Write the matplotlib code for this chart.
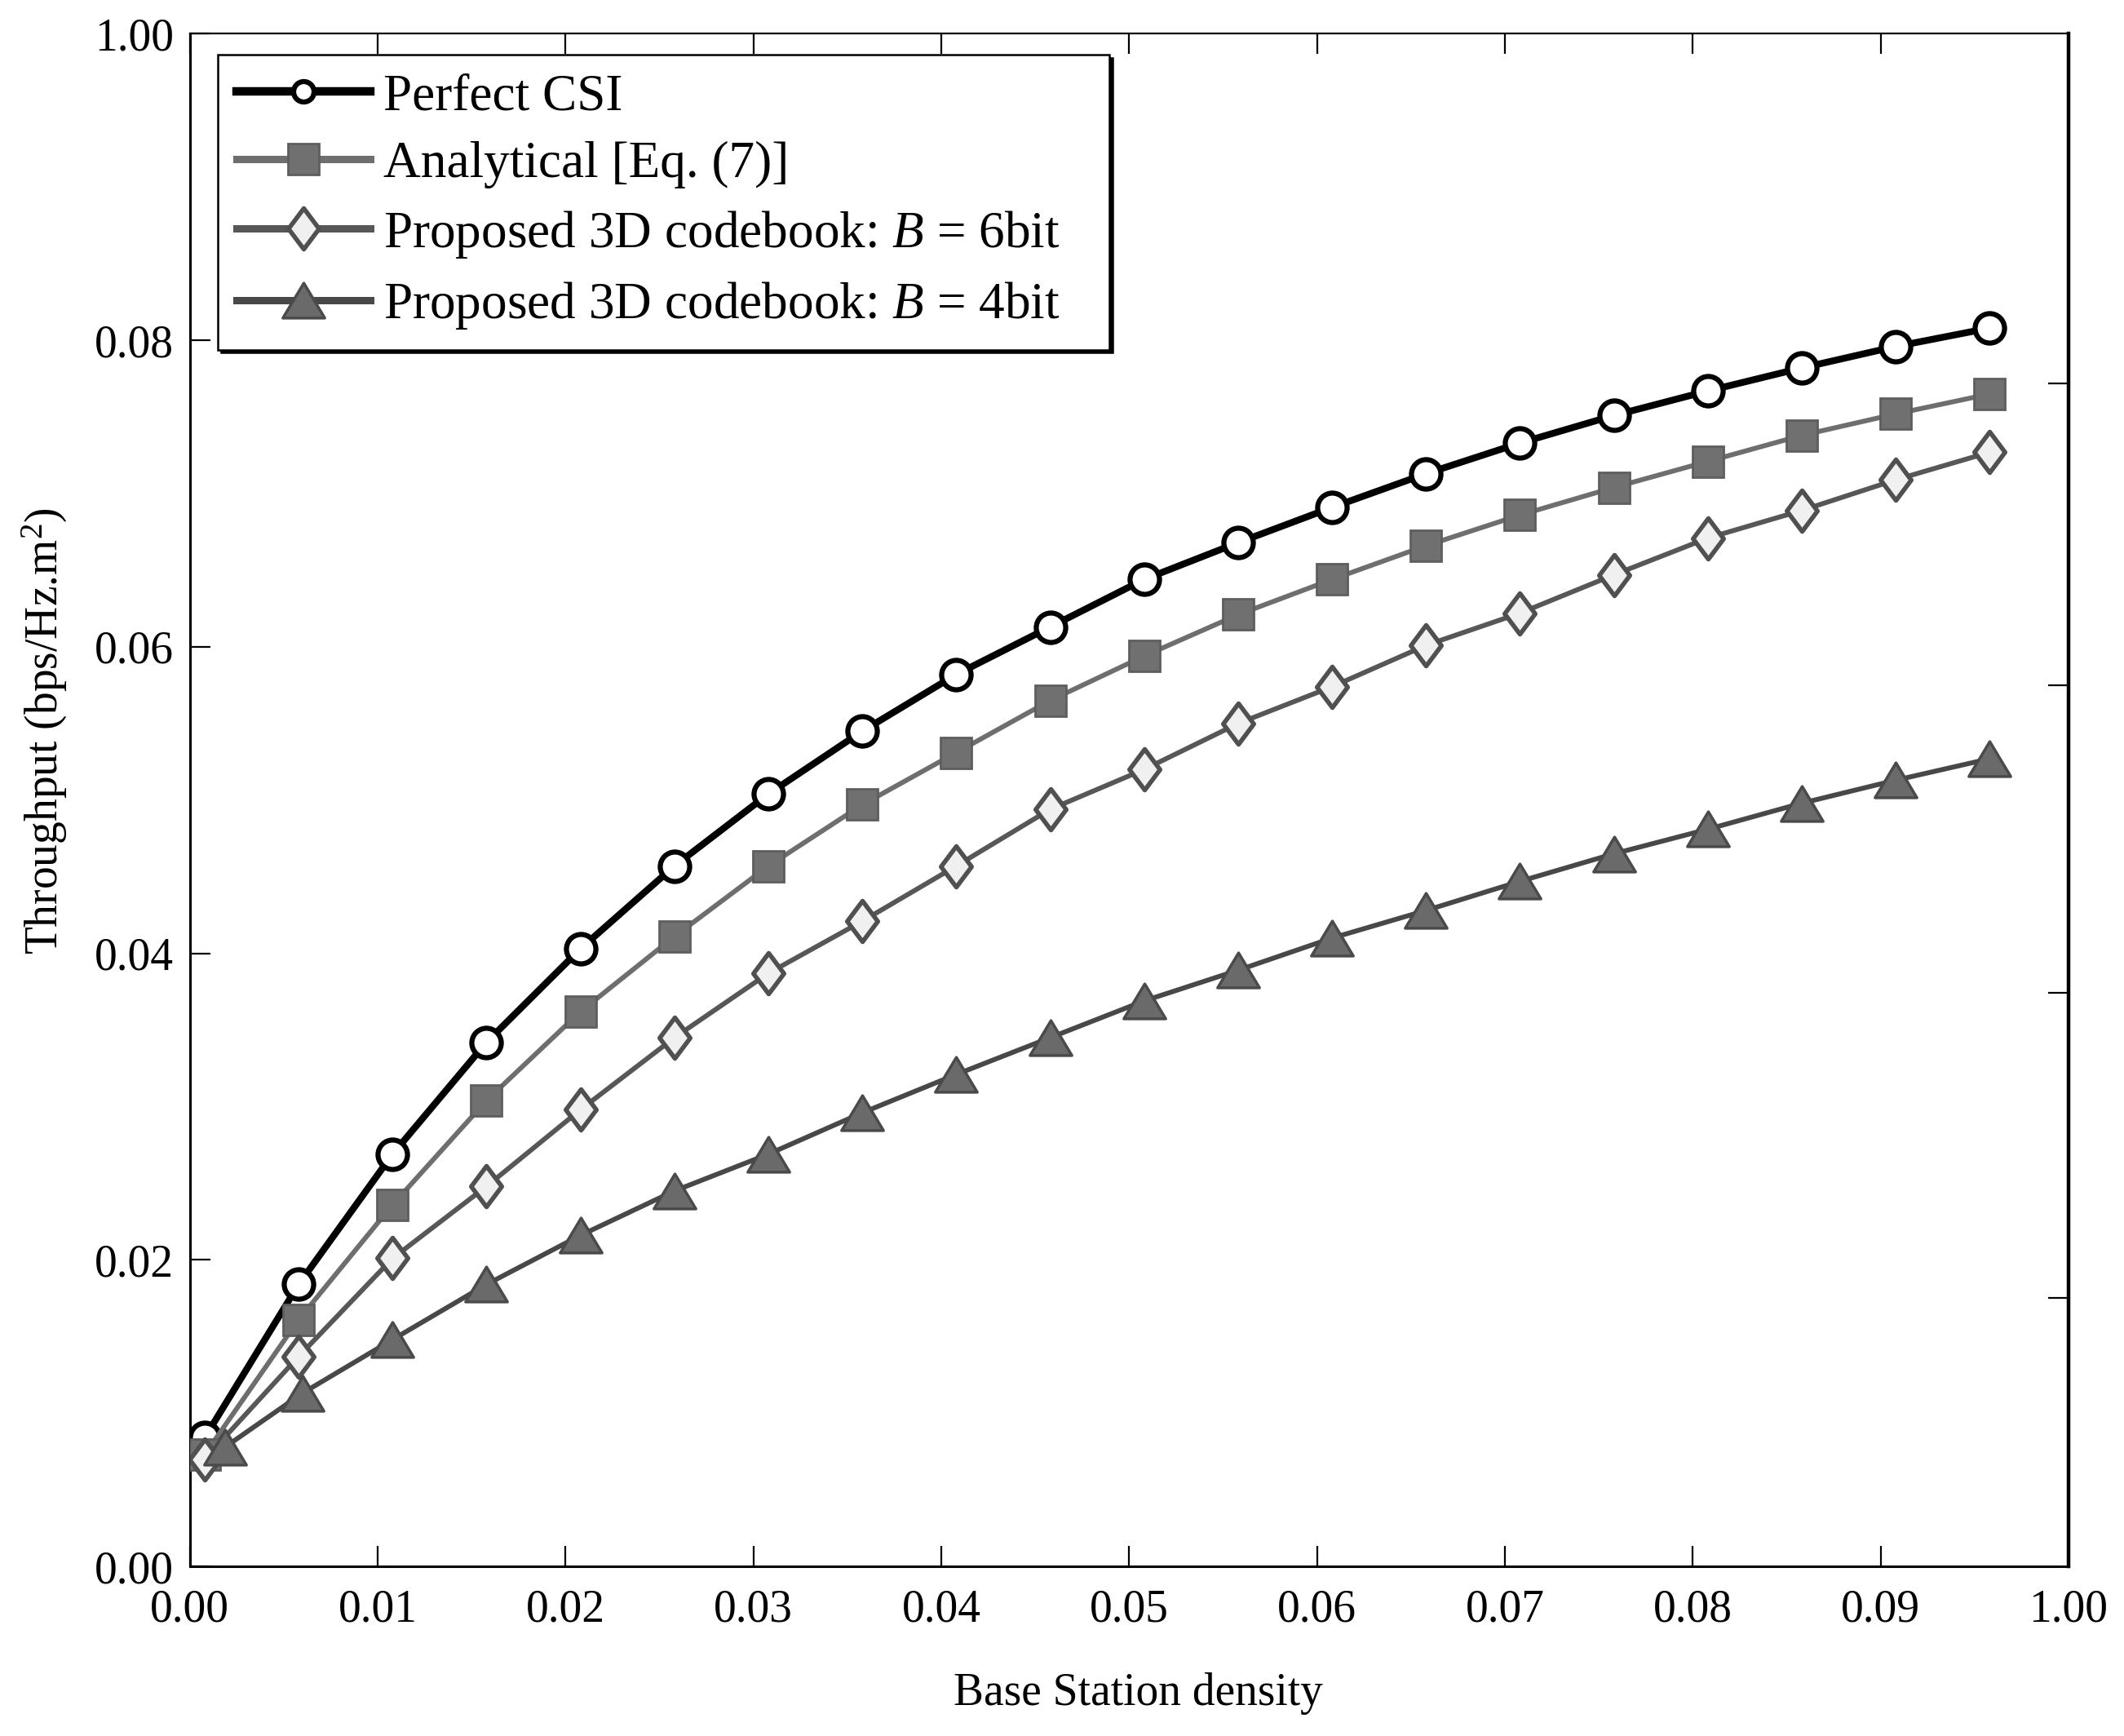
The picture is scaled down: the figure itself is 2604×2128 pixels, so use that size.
import matplotlib
matplotlib.use("Agg")
import matplotlib.pyplot as plt
from matplotlib.path import Path

plt.rcParams['font.family'] = ['Liberation Serif', 'DejaVu Serif']
plt.rcParams['mathtext.fontset'] = 'custom'
plt.rcParams['mathtext.rm'] = 'Liberation Serif'
plt.rcParams['mathtext.it'] = 'Liberation Serif:italic'

# ---- data ----
density = [0.0008, 0.0058, 0.0108, 0.0158, 0.0208, 0.0258, 0.0308, 0.0358, 0.0408, 0.0458,
           0.0508, 0.0558, 0.0608, 0.0658, 0.0708, 0.0758, 0.0808, 0.0858, 0.0908, 0.0958]
density_b4 = [0.0019, 0.0060, 0.0108, 0.0158, 0.0208, 0.0258, 0.0308, 0.0358, 0.0408, 0.0458,
              0.0508, 0.0558, 0.0608, 0.0658, 0.0708, 0.0758, 0.0808, 0.0858, 0.0908, 0.0958]
perfect_csi = [0.0084, 0.0184, 0.0269, 0.0342, 0.0403, 0.0457, 0.0504, 0.0545, 0.0582, 0.0613,
               0.0644, 0.0668, 0.0691, 0.0713, 0.0733, 0.0751, 0.0767, 0.0782, 0.0796, 0.0808]
analytical = [0.0073, 0.0161, 0.0236, 0.0304, 0.0362, 0.0411, 0.0457, 0.0497, 0.0531, 0.0565,
              0.0594, 0.0621, 0.0644, 0.0666, 0.0686, 0.0704, 0.0721, 0.0738, 0.0752, 0.0765]
codebook_6bit = [0.0070, 0.0137, 0.0201, 0.0248, 0.0298, 0.0345, 0.0387, 0.0421, 0.0457, 0.0494,
                 0.0520, 0.0550, 0.0574, 0.0601, 0.0622, 0.0647, 0.0671, 0.0689, 0.0709, 0.0727]
codebook_4bit = [0.0078, 0.0113, 0.0148, 0.0184, 0.0216, 0.0245, 0.0269, 0.0296, 0.0321, 0.0345,
                 0.0369, 0.0389, 0.0410, 0.0428, 0.0447, 0.0465, 0.0481, 0.0498, 0.0513, 0.0527]

labels = ["Perfect CSI", "Analytical [Eq. (7)]",
          "Proposed 3D codebook: $B$ = 6bit", "Proposed 3D codebook: $B$ = 4bit"]

x_ticks = [0.00, 0.01, 0.02, 0.03, 0.04, 0.05, 0.06, 0.07, 0.08, 0.09, 0.10]
x_ticklabels = ["0.00", "0.01", "0.02", "0.03", "0.04", "0.05", "0.06", "0.07", "0.08", "0.09", "1.00"]
y_ticks = [0.00, 0.02, 0.04, 0.06, 0.08, 0.10]
y_ticklabels = ["0.00", "0.02", "0.04", "0.06", "0.08", "1.00"]
right_ticks = [0.0175, 0.0374, 0.0575, 0.0772]

# ---- figure ----
fig = plt.figure(figsize=(26.04, 21.28), dpi=100)
ax = fig.add_axes([0.0893, 0.0977, 0.9739 - 0.0893, 0.9805 - 0.0977])

diamond = Path([(0, 1), (0.75, 0), (0, -1), (-0.75, 0), (0, 1)],
               [Path.MOVETO, Path.LINETO, Path.LINETO, Path.LINETO, Path.CLOSEPOLY])
triangle = Path([(0, 0.5), (0.6, -0.5), (-0.6, -0.5), (0, 0.5)],
                [Path.MOVETO, Path.LINETO, Path.LINETO, Path.CLOSEPOLY])

ax.plot(density, perfect_csi, color='black', lw=6, marker='o', ms=26,
        mfc='white', mec='black', mew=4.5, label=labels[0], zorder=3)
ax.plot(density, analytical, color='#6e6e6e', lw=4.3, marker='s', ms=27,
        mfc='#707070', mec='#5e5e5e', mew=2, label=labels[1], zorder=3)
ax.plot(density, codebook_6bit, color='#575757', lw=4.3, marker=diamond, ms=36,
        mfc='#f0f0f0', mec='#505050', mew=4, label=labels[2], zorder=3)
ax.plot(density_b4, codebook_4bit, color='#484848', lw=4.3, marker=triangle, ms=37,
        mfc='#6a6a6a', mec='#4a4a4a', mew=2.5, label=labels[3], zorder=3)

ax.set_xlim(0, 0.10)
ax.set_ylim(0, 0.10)
ax.set_xticks(x_ticks)
ax.set_xticklabels(x_ticklabels)
ax.set_yticks(y_ticks)
ax.set_yticklabels(y_ticklabels)
ax.tick_params(axis='both', which='major', direction='in', length=18, width=1.6,
               labelsize=40, top=True, right=False, colors='black')
ax.tick_params(axis='x', pad=20)
ax.tick_params(axis='y', pad=14)

ax2 = ax.twinx()
ax2.set_ylim(0, 0.10)
ax2.set_yticks(right_ticks)
ax2.tick_params(axis='y', direction='in', length=18, width=1.6, labelright=False)
for s in ax2.spines.values():
    s.set_visible(False)

for name, s in ax.spines.items():
    s.set_color('black')
ax.spines['left'].set_linewidth(2.2)
ax.spines['bottom'].set_linewidth(2.2)
ax.spines['top'].set_linewidth(1.6)
ax.spines['right'].set_linewidth(3.2)

ax.set_xlabel("Base Station density", fontsize=40)
ax.xaxis.set_label_coords(0.5047, -0.069)
ax.set_ylabel("Throughput (bps/Hz.m$^2$)", fontsize=40)
ax.yaxis.set_label_coords(-0.064, 0.545)

leg = ax.legend(loc='upper left', bbox_to_anchor=(0.015, 0.5, 0.4745, 0.4864),
                mode='expand', borderaxespad=0,
                fontsize=45.5, frameon=True, fancybox=False, framealpha=1,
                edgecolor='black', handlelength=2.6, handletextpad=0.25,
                labelspacing=0.39, borderpad=0.36, numpoints=1,
                shadow={'color': 'black', 'alpha': 1, 'ox': 2.5, 'oy': -2.5})
leg.get_frame().set_linewidth(1.8)
leg.set_zorder(10)
handles = leg.legend_handles
handles[0].set_linewidth(7.5)
handles[0].set_markersize(18)
for h in handles[1:]:
    h.set_linewidth(6.5)

fig.savefig("out.png", dpi=100, facecolor='white')
